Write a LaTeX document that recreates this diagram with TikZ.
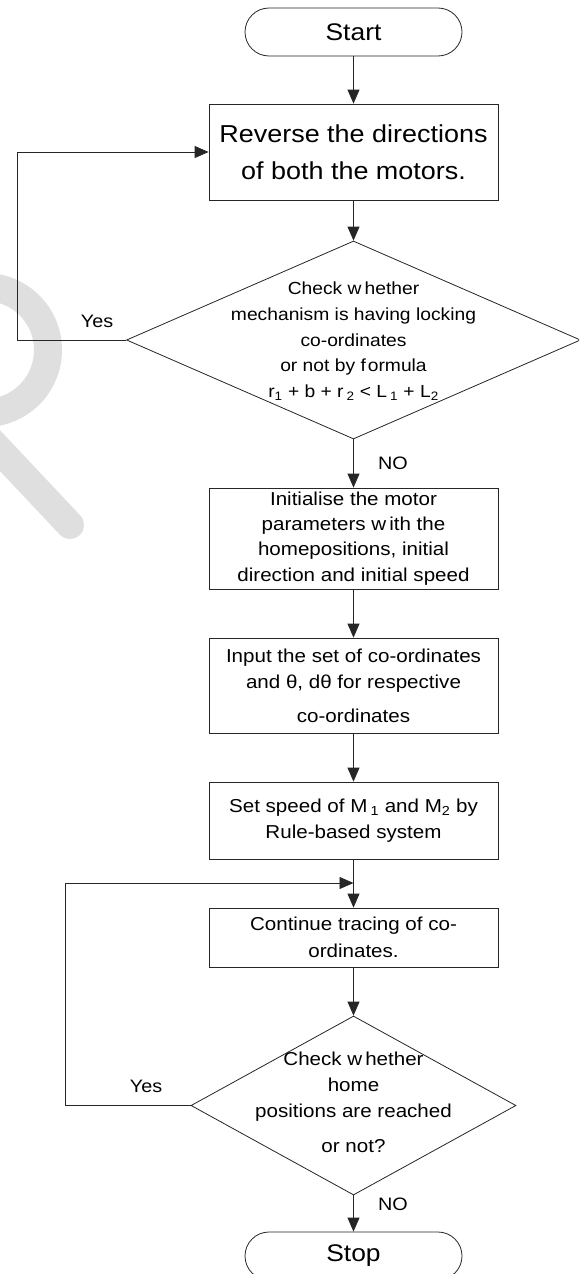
\documentclass[tikz,border=0pt]{standalone}
\usepackage{fontspec}
\setmainfont{Liberation Sans}[FakeStretch=1.1]
\usetikzlibrary{arrows.meta,shapes.geometric,shapes.misc}
\tikzset{
  line/.style={draw=black!85, line width=0.8pt},
  arr/.style={line, -{Triangle[length=14pt,width=12pt]}},
  term/.style={rounded rectangle, line, minimum width=217pt, minimum height=48pt, inner sep=0pt, font=\fontsize{24}{28}\selectfont},
  proc/.style={rectangle, line, minimum width=289pt, inner sep=0pt, align=center},
  dia/.style={diamond, line, inner sep=0pt},
  txt/.style={align=center, inner sep=0pt},
  lbl/.style={inner sep=0pt, font=\fontsize{18}{20}\selectfont},
  wmark/.style={draw=gray!25, line width=28pt, line cap=round},
}
\begin{document}
\begin{tikzpicture}[x=1pt,y=-1pt]
\useasboundingbox (0,0) rectangle (579,1274);
\clip (0,0) rectangle (579,1274);
\fill[white] (0,0) rectangle (579,1274);
% light watermark stroke
\draw[wmark] (-15,287) arc[start angle=-90,end angle=90,radius=63];
\draw[wmark] (-10,440) -- (70,525);

\node[term] (st) at (353.5,32) {Start};
\node[proc, minimum height=96pt, font=\fontsize{24.5}{37}\selectfont] (b1) at (353.5,152)
  {Reverse the directions\\of both the motors.};
\node[dia, minimum width=454pt, minimum height=198pt] (d1) at (353.5,340) {};
\node[txt, font=\fontsize{17.5}{25.7}\selectfont] (d1t) at (353.5,341)
  {Check w\kern3pt hether\\mechanism is having locking\\co-ordinates\\or not by f\kern2pt ormula\\
   r\textsubscript{1} + b + r\,\textsubscript{2} < L\,\textsubscript{1} + L\textsubscript{2}};
\node[proc, minimum height=101pt, font=\fontsize{18.7}{25.3}\selectfont] (b2) at (353.5,538.5)
  {Initialise the motor\\parameters w\kern3pt ith the\\homepositions, initial\\direction and initial speed};
\node[proc, minimum height=95pt, font=\fontsize{18.7}{26}\selectfont] (b3) at (353.5,685.5)
  {Input the set of co-ordinates\\and θ, dθ for respective\\[8pt]co-ordinates};
\node[proc, minimum height=77pt, font=\fontsize{18.7}{26}\selectfont] (b4) at (353.5,820.5)
  {Set speed of M\,\textsubscript{1} and M\textsubscript{2} by\\Rule-based system};
\node[proc, minimum height=59pt, font=\fontsize{18.7}{27}\selectfont] (b5) at (353.5,937.5)
  {Continue tracing of co-\\ordinates.};
\node[dia, minimum width=325pt, minimum height=179pt] (d2) at (353.5,1105.5) {};
\node[txt, font=\fontsize{18.7}{26}\selectfont] (d2t) at (353.5,1102)
  {Check w\kern3pt hether\\home\\positions are reached\\[9pt]or not?};
\node[term] (sp) at (353.5,1256) {Stop};

\node[lbl] (y1) at (97,321) {Yes};
\node[lbl] (y2) at (146,1086) {Yes};
\node[lbl] (n1) at (393,463) {NO};
\node[lbl] (n2) at (393,1204) {NO};

\coordinate (L1) at (17,152);
\coordinate (L2) at (65,883);
\coordinate (j) at (353.5,883);

\draw[arr] (st.south) -- (b1.north);
\draw[arr] (b1.south) -- (d1.north);
\draw[arr] (d1.south) -- (b2.north);
\draw[arr] (b2.south) -- (b3.north);
\draw[arr] (b3.south) -- (b4.north);
\draw[arr] (b4.south) -- (b5.north);
\draw[arr] (b5.south) -- (d2.north);
\draw[arr] (d2.south) -- (sp.north);
\draw[arr] (d1.west) -| (L1) -- (b1.west);
\draw[arr] (d2.west) -| (L2) -- (j);
\end{tikzpicture}
\end{document}
